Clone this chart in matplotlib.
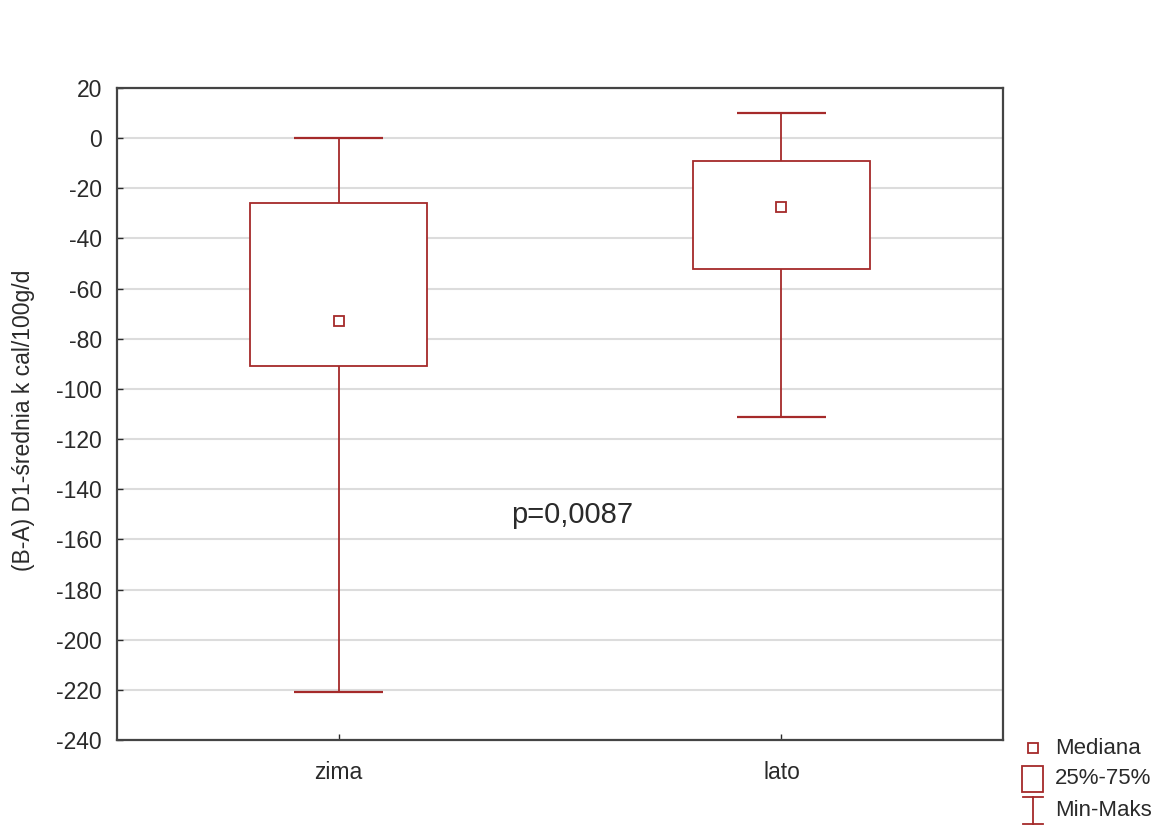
import matplotlib
matplotlib.use("Agg")
import matplotlib.pyplot as plt
from matplotlib.lines import Line2D
from matplotlib.patches import Rectangle

plt.rcParams["font.family"] = ["Liberation Sans", "DejaVu Sans"]
plt.rcParams["axes.unicode_minus"] = False

# values
groups = ["zima", "lato"]
minimum = [-221, -111]
q1 = [-91, -52]
median = [-73, -27.5]
q3 = [-26, -9]
maximum = [0, 10]
p_label = "p=0,0087"
y_ticks = list(range(-240, 21, 20))

box_color = "#a52a2a"
text_color = "#2a2a2a"
positions = list(range(len(groups)))

fig = plt.figure(figsize=(11.68, 8.27), dpi=100)
ax = fig.add_axes([0.1002, 0.1052, 0.7585, 0.7884])

ax.set_axisbelow(True)
ax.grid(axis="y", color="#dcdcdc", linewidth=1.5)

ax.bar(positions, [b - a for a, b in zip(q1, q3)], bottom=q1, width=0.4,
       facecolor="white", edgecolor=box_color, linewidth=1.3, zorder=3)
ax.vlines(positions, minimum, q1, color=box_color, linewidth=1.3, zorder=3)
ax.vlines(positions, q3, maximum, color=box_color, linewidth=1.3, zorder=3)
ax.hlines(minimum, [p - 0.1 for p in positions], [p + 0.1 for p in positions],
          color=box_color, linewidth=1.6, zorder=3)
ax.hlines(maximum, [p - 0.1 for p in positions], [p + 0.1 for p in positions],
          color=box_color, linewidth=1.6, zorder=3)
ax.plot(positions, median, linestyle="none", marker="s", markersize=7,
        markerfacecolor="white", markeredgecolor=box_color, markeredgewidth=1.3, zorder=4)

ax.text(0.527, -150.3, p_label, fontsize=21, ha="center", va="center", color=text_color)

ax.set_xlim(-0.5, 1.5)
ax.set_ylim(-240, 20)
ax.set_yticks(y_ticks)
ax.set_xticks(positions)
ax.set_xticklabels(groups)
ax.tick_params(axis="both", direction="in", length=4, width=1, labelsize=16.5,
               colors=text_color)
ax.tick_params(axis="x", pad=15)
ax.tick_params(axis="y", pad=11)
for spine in ax.spines.values():
    spine.set_color("#444444")
    spine.set_linewidth(1.6)
ax.set_ylabel("(B-A) D1-średnia k cal/100g/d", fontsize=16.5, color=text_color)
ax.yaxis.set_label_coords(-0.0925, 0.49)

# legend drawn outside the axes, bottom right
lx = 1033 / 1168
fig.add_artist(Line2D([lx], [1 - 748 / 827], marker="s", markersize=7, linestyle="none",
                      markerfacecolor="white", markeredgecolor=box_color,
                      markeredgewidth=1.3, transform=fig.transFigure))
fig.add_artist(Rectangle((1022 / 1168, 1 - 792 / 827), 21 / 1168, 26 / 827,
                         facecolor="white", edgecolor=box_color, linewidth=1.3,
                         transform=fig.transFigure))
fig.add_artist(Line2D([lx, lx], [1 - 797 / 827, 1 - 824 / 827], color=box_color,
                      linewidth=1.3, transform=fig.transFigure))
for yy in (797, 824):
    fig.add_artist(Line2D([lx - 10 / 1168, lx + 10 / 1168], [1 - yy / 827] * 2,
                          color=box_color, linewidth=1.3, transform=fig.transFigure))
for label, yy in [("Mediana", 748), ("25%-75%", 779), ("Min-Maks", 810)]:
    fig.text(1055 / 1168, 1 - yy / 827, label, fontsize=16, va="center", color=text_color)

fig.savefig("out.png", dpi=100)
